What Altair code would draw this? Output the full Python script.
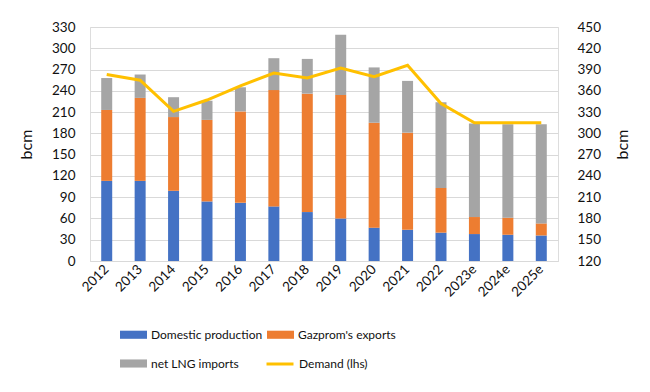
import altair as alt
import pandas as pd

years = ["2012", "2013", "2014", "2015", "2016", "2017", "2018", "2019",
         "2020", "2021", "2022", "2023e", "2024e", "2025e"]
domestic = [113, 113, 99, 84, 82, 77, 69, 60, 47, 44, 40, 38, 37, 36]
gazprom = [100, 117, 104, 115, 129, 164, 167, 174, 148, 137, 63, 24, 24, 17]
lng = [45, 33, 28, 27, 34, 45, 49, 85, 78, 73, 121, 132, 132, 140]
demand = [383, 375, 331, 347, 367, 385, 378, 392, 380, 396, 342, 315, 315, 315]

series_names = ["Domestic production", "Gazprom's exports", "net LNG imports"]
series_colors = ["#4472C4", "#ED7D31", "#A5A5A5"]
demand_name = "Demand (lhs)"
demand_color = "#FFC000"
left_ticks = list(range(0, 331, 30))
right_ticks = list(range(120, 451, 30))

rows = []
for i, yr in enumerate(years):
    for k, (name, vals) in enumerate(zip(series_names, [domestic, gazprom, lng])):
        rows.append({"year": yr, "series": name, "value": vals[i], "order": k})
bars_df = pd.DataFrame(rows)
line_df = pd.DataFrame({"year": years, "demand": demand, "series": demand_name})

FONT = "Lato"
TXT = "#111111"
GRID = "#d9d9d9"

x_enc = alt.X(
    "year:N", sort=years, title=None,
    scale=alt.Scale(paddingInner=0, paddingOuter=0),
    axis=alt.Axis(labelAngle=-45, labelAlign="right", labelBaseline="middle",
                  ticks=False, domainColor=GRID, labelFontSize=13.5,
                  labelColor=TXT, labelPadding=6),
)

rect_path = "M-1,-0.3H1V0.3H-1Z"

bars = alt.Chart(bars_df).mark_bar(size=11).encode(
    x=x_enc,
    y=alt.Y("value:Q", stack="zero",
            scale=alt.Scale(domain=[0, 330], nice=False),
            axis=alt.Axis(values=left_ticks, title="bcm", grid=True, gridColor=GRID,
                          domain=False, ticks=False, labelFontSize=13.5, labelColor=TXT,
                          titleFontSize=16, titleFontWeight="normal", titleColor=TXT,
                          labelPadding=15, titlePadding=17)),
    color=alt.Color("series:N",
                    scale=alt.Scale(domain=series_names, range=series_colors),
                    legend=alt.Legend(title=None, orient="none", legendX=30, legendY=294,
                                      columns=2, direction="horizontal",
                                      symbolType=rect_path, symbolSize=729,
                                      symbolStrokeWidth=0, labelFontSize=12,
                                      labelColor=TXT, rowPadding=9, columnPadding=4,
                                      labelOffset=4)),
    order=alt.Order("order:Q"),
)

line = alt.Chart(line_df).mark_line(strokeWidth=3).encode(
    x=x_enc,
    y=alt.Y("demand:Q",
            scale=alt.Scale(domain=[120, 450], nice=False),
            axis=alt.Axis(values=right_ticks, title="bcm", orient="right", grid=False,
                          domain=False, ticks=False, labelFontSize=13.5, labelColor=TXT,
                          titleFontSize=16, titleFontWeight="normal", titleColor=TXT,
                          titleAngle=270, labelPadding=19, titlePadding=30)),
    stroke=alt.Stroke("series:N",
                      scale=alt.Scale(domain=[demand_name], range=[demand_color]),
                      legend=alt.Legend(title=None, orient="none", legendX=175, legendY=322,
                                        symbolType="stroke", symbolSize=729,
                                        symbolStrokeWidth=3, labelFontSize=12,
                                        labelColor=TXT, labelOffset=4)),
)

chart = alt.layer(bars, line).resolve_scale(y="independent", color="independent").properties(
    width=468, height=234,
    padding={"left": 10, "top": 12, "right": 10, "bottom": 10},
    background="white",
).configure_view(stroke=None).configure(font=FONT)

chart.save("out.html", embed_options={"renderer": "svg", "actions": False})
